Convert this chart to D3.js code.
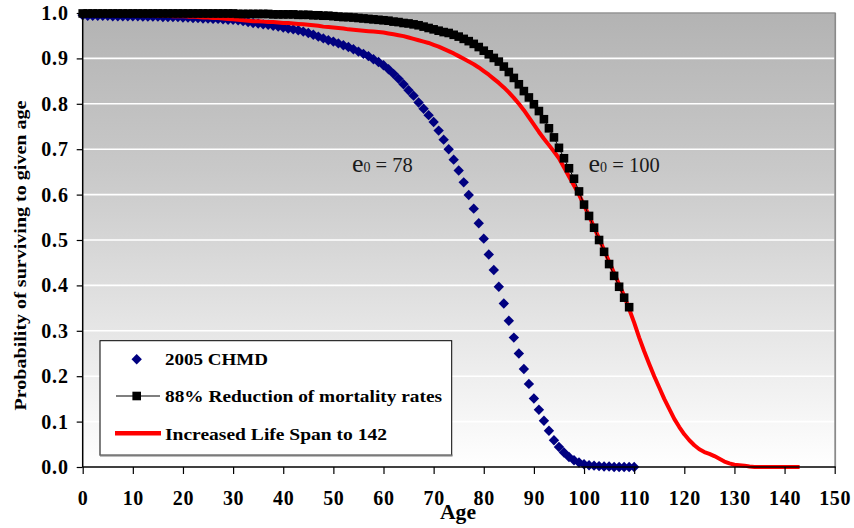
<!DOCTYPE html>
<html>
<head>
<meta charset="utf-8">
<script src="https://cdn.jsdelivr.net/npm/d3@7"></script>
<style>
  html, body { margin: 0; padding: 0; background: #ffffff; }
  svg { display: block; }
  text { font-family: "Liberation Serif", "Times New Roman", "DejaVu Serif", serif; }
</style>
</head>
<body>
<svg id="chart" width="854" height="528"></svg>
<script>
// ---------------- DATA ----------------
const seriesNames = ["2005 CHMD", "88% Reduction of mortality rates", "Increased Life Span to 142"];

// 2005 CHMD (ages 0..110)
const chmdAges = d3.range(0, 111);
const chmdValues = [
  0.995,0.994,0.994,0.994,0.994,0.994,0.993,0.993,0.993,0.993,
  0.993,0.993,0.992,0.992,0.992,0.992,0.991,0.991,0.991,0.991,
  0.990,0.990,0.989,0.989,0.988,0.988,0.987,0.987,0.986,0.985,
  0.985,0.984,0.982,0.980,0.978,0.977,0.975,0.974,0.972,0.970,
  0.968,0.966,0.964,0.962,0.959,0.956,0.952,0.948,0.944,0.940,
  0.937,0.933,0.929,0.925,0.920,0.915,0.910,0.905,0.898,0.892,
  0.885,0.876,0.866,0.855,0.843,0.830,0.818,0.803,0.789,0.775,
  0.760,0.741,0.721,0.700,0.677,0.653,0.627,0.599,0.569,0.537,
  0.503,0.468,0.434,0.397,0.360,0.322,0.285,0.250,0.216,0.183,
  0.151,0.126,0.102,0.080,0.059,0.044,0.032,0.022,0.015,0.010,
  0.006,0.004,0.003,0.002,0.001,0.001,0.000,0.000,0.000,0.000,
  0.000
];

// 88% Reduction of mortality rates (ages 0..109)
const reducedAges = d3.range(0, 110);
const reducedValues = [
  0.999,0.999,0.999,0.999,0.999,0.999,0.999,0.999,0.999,0.999,
  0.999,0.999,0.999,0.999,0.999,0.999,0.999,0.999,0.999,0.999,
  0.999,0.999,0.999,0.999,0.999,0.999,0.999,0.999,0.999,0.999,
  0.999,0.998,0.998,0.998,0.998,0.998,0.998,0.998,0.997,0.997,
  0.997,0.997,0.997,0.996,0.996,0.996,0.995,0.995,0.994,0.994,
  0.993,0.992,0.991,0.991,0.990,0.989,0.988,0.987,0.986,0.985,
  0.984,0.983,0.981,0.980,0.978,0.977,0.975,0.973,0.970,0.967,
  0.964,0.961,0.958,0.956,0.952,0.948,0.943,0.938,0.932,0.925,
  0.917,0.909,0.901,0.893,0.882,0.870,0.857,0.843,0.828,0.814,
  0.799,0.784,0.766,0.746,0.726,0.703,0.680,0.658,0.635,0.607,
  0.578,0.553,0.527,0.500,0.474,0.447,0.421,0.397,0.373,0.352
];

// Increased Life Span to 142 (ages 0..143)
const spanAges = d3.range(0, 144);
const spanValues = [
  0.998,0.998,0.998,0.998,0.997,0.997,0.997,0.997,0.996,0.996,
  0.996,0.996,0.995,0.995,0.995,0.994,0.994,0.994,0.993,0.993,
  0.993,0.992,0.992,0.991,0.990,0.990,0.989,0.989,0.988,0.987,
  0.986,0.985,0.984,0.983,0.982,0.982,0.981,0.980,0.980,0.979,
  0.978,0.978,0.977,0.976,0.975,0.974,0.973,0.972,0.970,0.969,
  0.968,0.967,0.966,0.964,0.963,0.962,0.961,0.960,0.959,0.958,
  0.957,0.955,0.953,0.951,0.949,0.946,0.943,0.940,0.937,0.934,
  0.930,0.926,0.921,0.916,0.911,0.905,0.899,0.893,0.887,0.880,
  0.872,0.864,0.855,0.846,0.836,0.825,0.813,0.800,0.786,0.770,
  0.754,0.738,0.723,0.709,0.695,0.680,0.660,0.640,0.620,0.600,
  0.577,0.553,0.528,0.503,0.478,0.452,0.427,0.402,0.377,0.348,
  0.318,0.285,0.255,0.227,0.200,0.175,0.150,0.128,0.106,0.088,
  0.072,0.059,0.048,0.039,0.033,0.029,0.024,0.018,0.012,0.008,
  0.005,0.004,0.003,0.001,0.000,0.000,0.000,0.000,0.000,0.000,
  0.000,0.000,0.000,0.000
];

const xTicks = d3.range(0, 151, 10);
const yTicks = d3.range(0, 11).map(i => i / 10);
const annotations = [
  { age: 53.7, value: 0.649, sub: "0", rest: " = 78" },
  { age: 100.9, value: 0.649, sub: "0", rest: " = 100" }
];
const xTitle = "Age";
const yTitle = "Probability of surviving to given age";

// ---------------- LAYOUT ----------------
const svg = d3.select("#chart");
const plot = { left: 82.7, right: 834.7, top: 13, bottom: 467 };

const x = d3.scaleLinear().domain([0, 150]).range([plot.left, plot.right]);
const y = d3.scaleLinear().domain([0, 1]).range([plot.bottom, plot.top]);

// gradient background
const defs = svg.append("defs");
const grad = defs.append("linearGradient").attr("id", "bg")
  .attr("x1", 0).attr("y1", 0).attr("x2", 0).attr("y2", 1);
grad.append("stop").attr("offset", "0%").attr("stop-color", "#b3b3b3");
grad.append("stop").attr("offset", "35%").attr("stop-color", "#c9c9c9");
grad.append("stop").attr("offset", "100%").attr("stop-color", "#ffffff");

svg.append("rect")
  .attr("x", plot.left).attr("y", plot.top)
  .attr("width", plot.right - plot.left).attr("height", plot.bottom - plot.top)
  .attr("fill", "url(#bg)");

// gridlines
svg.append("g").selectAll("line").data(yTicks.filter(v => v > 0 && v < 1)).join("line")
  .attr("x1", plot.left).attr("x2", plot.right)
  .attr("y1", d => y(d)).attr("y2", d => y(d))
  .attr("stroke", "#ffffff").attr("stroke-width", 1.6);

// top and right border (grey)
svg.append("line").attr("x1", plot.left).attr("x2", plot.right + 1)
  .attr("y1", plot.top).attr("y2", plot.top)
  .attr("stroke", "#949494").attr("stroke-width", 1.6);
svg.append("line").attr("x1", plot.right + 0.5).attr("x2", plot.right + 0.5)
  .attr("y1", plot.top).attr("y2", plot.bottom)
  .attr("stroke", "#8a8a8a").attr("stroke-width", 1.8);

// ---------------- SERIES ----------------
const chmd = chmdAges.map((a, i) => ({ age: a, v: chmdValues[i] }));
const reduced = reducedAges.map((a, i) => ({ age: a, v: reducedValues[i] }));
const span = spanAges.map((a, i) => ({ age: a, v: spanValues[i] }));

const diamond = "M0,-5.2L5.2,0L0,5.2L-5.2,0Z";

// blue diamonds
svg.append("g").selectAll("path").data(chmd).join("path")
  .attr("d", diamond)
  .attr("transform", d => `translate(${x(d.age)},${y(d.v)})`)
  .attr("fill", "#000080");

// red line
const line = d3.line().x(d => x(d.age)).y(d => y(d.v));
svg.append("path").datum(span)
  .attr("d", line)
  .attr("fill", "none")
  .attr("stroke", "#ff0000")
  .attr("stroke-width", 4)
  .attr("stroke-linejoin", "round");

// black line + squares
svg.append("path").datum(reduced)
  .attr("d", line)
  .attr("fill", "none")
  .attr("stroke", "#000000")
  .attr("stroke-width", 1);
const sq = 8.6;
svg.append("g").selectAll("rect").data(reduced).join("rect")
  .attr("x", d => x(d.age) - sq / 2)
  .attr("y", d => y(d.v) - sq / 2)
  .attr("width", sq).attr("height", sq)
  .attr("fill", "#000000");

// ---------------- AXES ----------------
const yAxis = d3.axisLeft(y).tickValues(yTicks).tickFormat(d3.format(".1f"))
  .tickSize(6).tickPadding(8);
const gy = svg.append("g").attr("transform", `translate(${plot.left},0)`).call(yAxis);
gy.select(".domain").remove();
gy.selectAll(".tick line").attr("stroke", "#000").attr("stroke-width", 1.2);
gy.selectAll("text")
  .attr("font-family", "Liberation Serif").attr("font-weight", "bold")
  .attr("font-size", 20).attr("fill", "#000")
  .attr("letter-spacing", "0.8px");

const xAxis = d3.axisBottom(x).tickValues(xTicks).tickFormat(d3.format("d"))
  .tickSize(7).tickPadding(17);
const gx = svg.append("g").attr("transform", `translate(0,${plot.bottom})`).call(xAxis);
gx.select(".domain").remove();
gx.selectAll(".tick line").attr("stroke", "#000").attr("stroke-width", 1.2);
gx.selectAll("text")
  .attr("font-family", "Liberation Serif").attr("font-weight", "bold")
  .attr("font-size", 20).attr("fill", "#000")
  .attr("letter-spacing", "0.7px");

// axis lines
svg.append("line").attr("x1", plot.left).attr("x2", plot.left)
  .attr("y1", plot.top).attr("y2", plot.bottom)
  .attr("stroke", "#000").attr("stroke-width", 1.5);
svg.append("line").attr("x1", plot.left).attr("x2", plot.right + 1)
  .attr("y1", plot.bottom).attr("y2", plot.bottom)
  .attr("stroke", "#000").attr("stroke-width", 1.5);

// axis titles
svg.append("text")
  .attr("transform", "translate(25.5,255.5) rotate(-90)")
  .attr("text-anchor", "middle")
  .attr("font-weight", "bold").attr("font-size", 17.5)
  .attr("textLength", 310).attr("lengthAdjust", "spacingAndGlyphs")
  .text(yTitle);

svg.append("text")
  .attr("x", 440).attr("y", 518.5)
  .attr("font-weight", "bold").attr("font-size", 20)
  .attr("textLength", 36).attr("lengthAdjust", "spacingAndGlyphs")
  .text(xTitle);

// annotations e0 = ...
annotations.forEach(a => {
  const t = svg.append("text")
    .attr("x", x(a.age)).attr("y", y(a.value))
    .attr("fill", "#1a1a1a");
  t.append("tspan").attr("font-size", 26).text("e");
  t.append("tspan").attr("font-size", 14).text(a.sub);
  t.append("tspan").attr("font-size", 20.5).text(a.rest);
});

// ---------------- LEGEND ----------------
const lg = svg.append("g");
lg.append("rect").attr("x", 100).attr("y", 340.7).attr("width", 351.7).attr("height", 114.5)
  .attr("fill", "#ffffff").attr("stroke", "#000").attr("stroke-width", 1);
lg.append("line").attr("x1", 100).attr("x2", 452.5).attr("y1", 455.6).attr("y2", 455.6)
  .attr("stroke", "#7a7a7a").attr("stroke-width", 2);

const legendRows = [
  { y: 359.3, base: 364.5, len: 103 },
  { y: 396.0, base: 401.7, len: 277 },
  { y: 433.3, base: 440.0, len: 222 }
];
// row 1: diamond
lg.append("path").attr("d", diamond)
  .attr("transform", `translate(136.7,${legendRows[0].y})`).attr("fill", "#000080");
// row 2: line + square
lg.append("line").attr("x1", 116).attr("x2", 160)
  .attr("y1", legendRows[1].y).attr("y2", legendRows[1].y)
  .attr("stroke", "#000").attr("stroke-width", 1.2);
lg.append("rect").attr("x", 136.7 - 4.3).attr("y", legendRows[1].y - 4.3)
  .attr("width", 8.6).attr("height", 8.6).attr("fill", "#000");
// row 3: red line
lg.append("line").attr("x1", 115).attr("x2", 161)
  .attr("y1", legendRows[2].y).attr("y2", legendRows[2].y)
  .attr("stroke", "#ff0000").attr("stroke-width", 4.5);

legendRows.forEach((r, i) => {
  lg.append("text")
    .attr("x", 165).attr("y", r.base)
    .attr("font-weight", "bold").attr("font-size", 17.5)
    .attr("textLength", r.len).attr("lengthAdjust", "spacingAndGlyphs")
    .text(seriesNames[i]);
});
</script>
</body>
</html>
